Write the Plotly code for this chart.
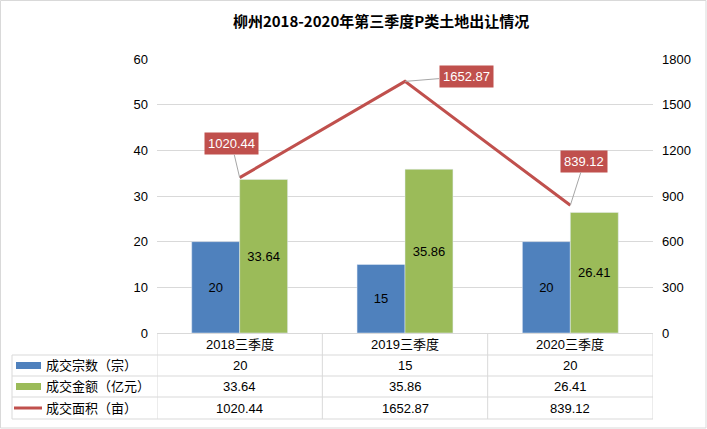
import plotly.graph_objects as go

categories = ['2018三季度', '2019三季度', '2020三季度']
deal_count = [20, 15, 20]
deal_amount = [33.64, 35.86, 26.41]
deal_area = [1020.44, 1652.87, 839.12]
series_names = ['成交宗数（宗）', '成交金额（亿元）', '成交面积（亩）']

blue = '#4f81bd'
green = '#9bbb59'
red = '#c0504d'
grid = '#d9d9d9'
font = 'Liberation Sans, Noto Sans CJK SC'

# pixel helpers (plot area 157..653 x 59..333 in a 707x429 page)
def px(x):
    return (x - 157) / 496

def py(y):
    return (333 - y) / 274

fig = go.Figure()
fig.add_trace(go.Bar(
    x=categories, y=deal_count, name=series_names[0],
    marker_color=blue, text=[str(v) for v in deal_count],
    textposition='inside', insidetextanchor='middle', textangle=0,
    textfont=dict(color='black', size=13)
))
fig.add_trace(go.Bar(
    x=categories, y=deal_amount, name=series_names[1],
    marker_color=green, text=[f'{v:.2f}' for v in deal_amount],
    textposition='inside', insidetextanchor='middle', textangle=0,
    textfont=dict(color='black', size=13)
))
fig.add_trace(go.Scatter(
    x=categories, y=deal_area, name=series_names[2], yaxis='y2',
    mode='lines', line=dict(color=red, width=3)
))

# labels on the line
offsets = [(-8, -34), (61, -5), (14, -44)]
annotations = []
for c, v, (ax, ay) in zip(categories, deal_area, offsets):
    annotations.append(dict(
        x=c, y=v, xref='x', yref='y2', text=f'{v:.2f}',
        showarrow=True, arrowhead=0, arrowwidth=1, arrowcolor='#a6a6a6',
        ax=ax, ay=ay, bgcolor=red, borderpad=3,
        font=dict(color='white', size=13, family=font)
    ))

# data table under the chart
shapes = []
row_lines = [355, 376, 397, 419]
for y in row_lines:
    shapes.append(dict(type='line', xref='paper', yref='paper',
                       x0=px(12), x1=px(653), y0=py(y), y1=py(y),
                       line=dict(color=grid, width=1)))
for xc in [-0.5, 0.5, 1.5, 2.5]:
    shapes.append(dict(type='line', xref='x', yref='paper',
                       x0=xc, x1=xc, y0=py(333), y1=py(419),
                       line=dict(color=grid, width=1)))
shapes.append(dict(type='line', xref='paper', yref='paper',
                   x0=px(12), x1=px(12), y0=py(355), y1=py(419),
                   line=dict(color=grid, width=1)))
# outer chart border
shapes.append(dict(type='rect', xref='paper', yref='paper',
                   x0=px(0.5), x1=px(706), y0=py(428), y1=py(0.5),
                   line=dict(color='#d9d9d9', width=1)))

# legend keys
row_mid = [365.5, 386.5, 408]
shapes.append(dict(type='rect', xref='paper', yref='paper',
                   x0=px(16), x1=px(41), y0=py(369), y1=py(362),
                   fillcolor=blue, line=dict(width=0)))
shapes.append(dict(type='rect', xref='paper', yref='paper',
                   x0=px(16), x1=px(41), y0=py(390), y1=py(383),
                   fillcolor=green, line=dict(width=0)))
shapes.append(dict(type='line', xref='paper', yref='paper',
                   x0=px(14), x1=px(42), y0=py(408), y1=py(408),
                   line=dict(color=red, width=3)))

for c in categories:
    annotations.append(dict(x=c, y=py(344), xref='x', yref='paper',
                            text=c, showarrow=False, yanchor='middle',
                            font=dict(size=13, color='black', family=font)))

rows = [
    [str(v) for v in deal_count],
    [f'{v:.2f}' for v in deal_amount],
    [f'{v:.2f}' for v in deal_area],
]
for name, vals, ym in zip(series_names, rows, row_mid):
    annotations.append(dict(x=px(44), y=py(ym), xref='paper', yref='paper',
                            text=name, showarrow=False, xanchor='left',
                            yanchor='middle',
                            font=dict(size=13, color='black', family=font)))
    for c, t in zip(categories, vals):
        annotations.append(dict(x=c, y=py(ym), xref='x', yref='paper',
                                text=t, showarrow=False, yanchor='middle',
                                font=dict(size=13, color='black', family=font)))

fig.update_layout(
    width=707, height=429,
    margin=dict(l=157, r=54, t=59, b=96),
    paper_bgcolor='white', plot_bgcolor='white',
    font=dict(family=font, size=13, color='black'),
    title=dict(text='<b>柳州2018-2020年第三季度P类土地出让情况</b>',
               x=0.539, xanchor='center', y=0.95, yanchor='middle',
               font=dict(size=15, family='Noto Sans CJK SC', color='black')),
    barmode='group', bargap=0.42, bargroupgap=0,
    showlegend=False,
    xaxis=dict(type='category', range=[-0.5, 2.5], showticklabels=False,
               showline=True, linecolor=grid, linewidth=1, ticks=''),
    yaxis=dict(range=[0, 60], dtick=10, showgrid=True, gridcolor=grid,
               zeroline=False, showline=False, ticks='', ticklabelstandoff=8),
    yaxis2=dict(range=[0, 1800], dtick=300, overlaying='y', side='right',
                showgrid=False, zeroline=False, showline=False, ticks='',
                ticklabelstandoff=8),
    annotations=annotations,
    shapes=shapes,
)

fig.write_html('out.html', config={'displayModeBar': False},
               post_script="document.body.style.margin='0';")
